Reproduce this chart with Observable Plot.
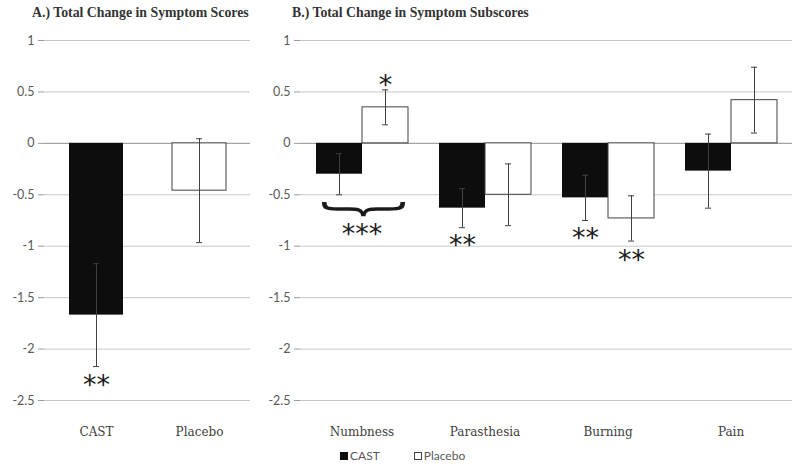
<!DOCTYPE html>
<html><head><meta charset="utf-8">
<script src="https://cdn.jsdelivr.net/npm/d3@7"></script>
<script src="https://cdn.jsdelivr.net/npm/@observablehq/plot@0.6"></script>
<style>
body{margin:0;background:#fff;}
#wrap{position:relative;width:800px;height:470px;overflow:hidden;font-family:Lato,sans-serif;background:#fff;}
.title{position:absolute;top:5px;font-family:"Liberation Serif",serif;font-weight:bold;font-size:13.8px;color:#333;white-space:nowrap;}
#panelA{position:absolute;left:0;top:0;}
#panelB{position:absolute;left:255px;top:0;}
#legend{position:absolute;left:340px;top:448px;font-size:12px;color:#595959;display:flex;align-items:center;font-family:Lato,sans-serif;}
.sw{display:inline-block;width:8px;height:8px;margin-right:2px;box-sizing:border-box;}
</style></head>
<body><div id="wrap">
<div class="title" style="left:32px">A.) Total Change in Symptom Scores</div>
<div class="title" style="left:292px">B.) Total Change in Symptom Subscores</div>
<div id="panelA"></div>
<div id="panelB"></div>
<div id="legend"><span class="sw" style="background:#0d0d0d"></span><span style="margin-right:34px">CAST</span><span class="sw" style="background:#fff;border:1px solid #404040"></span><span>Placebo</span></div>
</div>
<script>
// ---- data ----
const panelACategories = ["CAST", "Placebo"];
const panelAValues = [-1.67, -0.46];
const panelAErrors = [0.50, 0.505];

const subscoreGroups = ["Numbness", "Parasthesia", "Burning", "Pain"];
const seriesNames = ["CAST", "Placebo"];
const castValues = [-0.30, -0.63, -0.53, -0.27];
const castErrors = [0.20, 0.19, 0.22, 0.36];
const placeboValues = [0.35, -0.50, -0.73, 0.42];
const placeboErrors = [0.17, 0.30, 0.22, 0.32];

const yTicks = [1, 0.5, 0, -0.5, -1, -1.5, -2, -2.5];

const starsA = [{category: "CAST", y: -2.28, label: "**"}];
const starsB = [
  {group: "Numbness", series: "Placebo", y: 0.63, label: "*"},
  {group: "Parasthesia", series: "CAST", y: -0.92, label: "**"},
  {group: "Burning", series: "CAST", y: -0.86, label: "**"},
  {group: "Burning", series: "Placebo", y: -1.07, label: "**"}
];
const groupStars = [{group: "Numbness", y: -0.82, label: "***"}];
const braces = [{group: "Numbness", y: -0.64, label: "{"}];

// ---- build ----
const GRID = "#c8c8c8", AXIS = "#9a9a9a", ERR = "#404040", DARK = "#0d0d0d";
const dataA = panelACategories.map((c, i) => ({category: c, value: panelAValues[i], err: panelAErrors[i]}));
const dataB = subscoreGroups.flatMap((g, i) => [
  {group: g, series: "CAST", value: castValues[i], err: castErrors[i]},
  {group: g, series: "Placebo", value: placeboValues[i], err: placeboErrors[i]}
]);

const yAxis = () => Plot.axisY(yTicks, {tickSize: 6, tickPadding: 4, line: true, stroke: AXIS, fill: "#595959",
  tickFormat: d => String(d), label: null, fontSize: 12.5, fontFamily: "Lato, sans-serif"});

const plotA = Plot.plot({
  width: 255, height: 445, marginLeft: 44, marginRight: 5, marginTop: 40, marginBottom: 45,
  style: {background: "transparent", fontFamily: "Lato, sans-serif"},
  x: {domain: panelACategories, paddingInner: 0.476, paddingOuter: 0.238},
  y: {domain: [-2.5, 1]},
  marks: [
    Plot.gridY(yTicks, {stroke: GRID, strokeOpacity: 1}),
    Plot.ruleY([0], {stroke: AXIS}),
    Plot.barY(dataA.filter(d => d.category === "CAST"), {x: "category", y: "value", fill: DARK}),
    Plot.barY(dataA.filter(d => d.category !== "CAST"), {x: "category", y: "value", fill: "#fff", stroke: ERR}),
    Plot.ruleX(dataA, {x: "category", y1: d => d.value - d.err, y2: d => d.value + d.err, stroke: ERR}),
    Plot.tickY(dataA, {x: "category", y: d => d.value - d.err, stroke: ERR, insetLeft: 24, insetRight: 24}),
    Plot.tickY(dataA, {x: "category", y: d => d.value + d.err, stroke: ERR, insetLeft: 24, insetRight: 24}),
    Plot.text(starsA, {x: "category", y: "y", text: "label", fontSize: 27, fontFamily: "DejaVu Sans", fill: "#1a1a1a", dy: 7}),
    yAxis(),
    Plot.axisX({tickSize: 0, tickPadding: 27, fontFamily: "DejaVu Serif", fontSize: 12, fill: "#404040", label: null})
  ]
});
document.getElementById("panelA").append(plotA);

const plotB = Plot.plot({
  width: 545, height: 445, marginLeft: 45, marginRight: 8, marginTop: 40, marginBottom: 45,
  style: {background: "transparent", fontFamily: "Lato, sans-serif"},
  fx: {domain: subscoreGroups, padding: 0},
  x: {domain: seriesNames, paddingInner: 0, paddingOuter: 0.316, axis: null},
  y: {domain: [-2.5, 1]},
  marks: [
    Plot.gridY(yTicks, {stroke: GRID, strokeOpacity: 1}),
    Plot.ruleY([0], {stroke: AXIS}),
    Plot.barY(dataB.filter(d => d.series === "CAST"), {fx: "group", x: "series", y: "value", fill: DARK}),
    Plot.barY(dataB.filter(d => d.series !== "CAST"), {fx: "group", x: "series", y: "value", fill: "#fff", stroke: ERR}),
    Plot.ruleX(dataB, {fx: "group", x: "series", y1: d => d.value - d.err, y2: d => d.value + d.err, stroke: ERR}),
    Plot.tickY(dataB, {fx: "group", x: "series", y: d => d.value - d.err, stroke: ERR, insetLeft: 20, insetRight: 20}),
    Plot.tickY(dataB, {fx: "group", x: "series", y: d => d.value + d.err, stroke: ERR, insetLeft: 20, insetRight: 20}),
    Plot.text(starsB, {fx: "group", x: "series", y: "y", text: "label", fontSize: 27, fontFamily: "DejaVu Sans", fill: "#1a1a1a", dy: 7}),
    Plot.text(groupStars, {fx: "group", y: "y", text: "label", fontSize: 27, fontFamily: "DejaVu Sans", fill: "#1a1a1a", dy: 7}),
    Plot.text(braces, {fx: "group", y: "y", text: "label", rotate: -90, fontSize: 89, fontFamily: "DejaVu Serif", fill: "#1a1a1a"}),
    yAxis(),
    Plot.axisFx({anchor: "bottom", tickSize: 0, tickPadding: 27, fontFamily: "DejaVu Serif", fontSize: 12, fill: "#404040", label: null})
  ]
});
plotB.querySelectorAll("text").forEach(t => {
  if (t.textContent === "{") {
    const tr = t.getAttribute("transform") || "";
    t.setAttribute("transform", tr + " scale(0.42,1)");
  }
});
document.getElementById("panelB").append(plotB);
</script>
</body></html>
